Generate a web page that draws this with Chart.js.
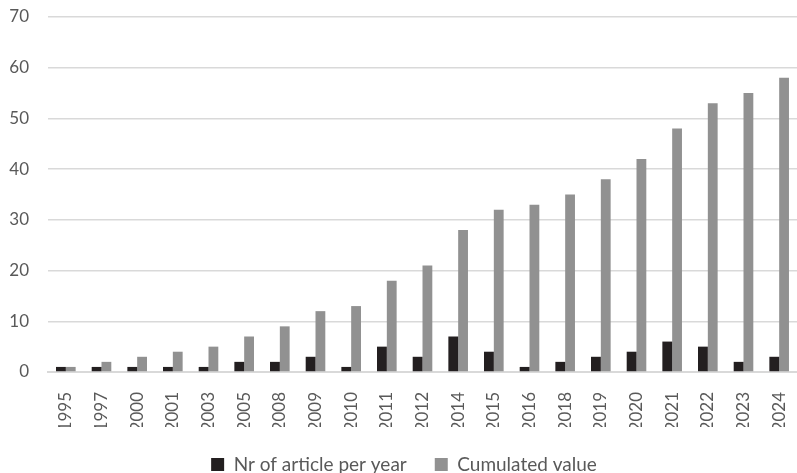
<!DOCTYPE html>
<html>
<head>
<meta charset="utf-8">
<script src="https://cdn.jsdelivr.net/npm/chart.js@4"></script>
<style>
    html, body { margin: 0; padding: 0; background: #fff; }
    #wrap { width: 797px; height: 473px; }
</style>
</head>
<body>
<div id="wrap"><canvas id="articles-chart"></canvas></div>
<script>
// Lata publikacji
const years = ['1995', '1997', '2000', '2001', '2003', '2005', '2008', '2009', '2010', '2011', '2012',
    '2014', '2015', '2016', '2018', '2019', '2020', '2021', '2022', '2023', '2024'];

// Liczba artykulow w danym roku
const perYear = [1, 1, 1, 1, 1, 2, 2, 3, 1, 5, 3, 7, 4, 1, 2, 3, 4, 6, 5, 2, 3];

// Wartosc skumulowana
const cumulated = [1, 2, 3, 4, 5, 7, 9, 12, 13, 18, 21, 28, 32, 33, 35, 38, 42, 48, 53, 55, 58];

const yTicks = [0, 10, 20, 30, 40, 50, 60, 70];

const font = "Lato, 'Open Sans', sans-serif";

// Stala wysokosc legendy (odstep od etykiet osi X)
const legendHeight = {
    id: 'legendHeight',
    beforeInit(chart) {
        const fit = chart.legend.fit;
        chart.legend.fit = function () {
            fit.call(this);
            this.height = 46;
        };
    }
};

document.addEventListener('DOMContentLoaded', () => {
    const ctx = document.getElementById('articles-chart').getContext('2d');

    new Chart(ctx, {
        type: 'bar',
        data: {
            labels: years,
            datasets: [{
                label: 'Nr of article per year',
                data: perYear,
                backgroundColor: '#231f20',
                borderWidth: 0
            }, {
                label: 'Cumulated value',
                data: cumulated,
                backgroundColor: '#919191',
                borderWidth: 0
            }]
        },
        plugins: [legendHeight],
        options: {
            responsive: true,
            maintainAspectRatio: false,
            animation: false,
            layout: {
                padding: { top: 17, right: -11, bottom: 0, left: 0 }
            },
            datasets: {
                bar: {
                    categoryPercentage: 0.55,
                    barPercentage: 1
                }
            },
            scales: {
                x: {
                    afterFit: axis => {
                        axis.height = 55;
                        axis.paddingLeft = 0;
                        axis.paddingRight = 0;
                    },
                    grid: { display: false },
                    border: { color: '#d9d9d9', width: 2 },
                    ticks: {
                        color: '#595959',
                        font: { family: font, size: 17 },
                        minRotation: 90,
                        maxRotation: 90,
                        padding: 12
                    }
                },
                y: {
                    min: 0,
                    max: 70,
                    afterBuildTicks: axis => {
                        axis.ticks = yTicks.map(v => ({ value: v }));
                    },
                    afterFit: axis => {
                        axis.width = 48;
                        axis.paddingTop = 0;
                        axis.paddingBottom = 0;
                    },
                    grid: { color: '#d9d9d9', lineWidth: 1.5, drawTicks: false },
                    border: { display: false },
                    ticks: {
                        color: '#595959',
                        font: { family: font, size: 17 },
                        padding: 19
                    }
                }
            },
            plugins: {
                legend: {
                    position: 'bottom',
                    labels: {
                        color: '#595959',
                        font: { family: font, size: 19 },
                        boxWidth: 13,
                        boxHeight: 13,
                        padding: 28
                    }
                },
                tooltip: { enabled: false }
            }
        }
    });
});
</script>
</body>
</html>
